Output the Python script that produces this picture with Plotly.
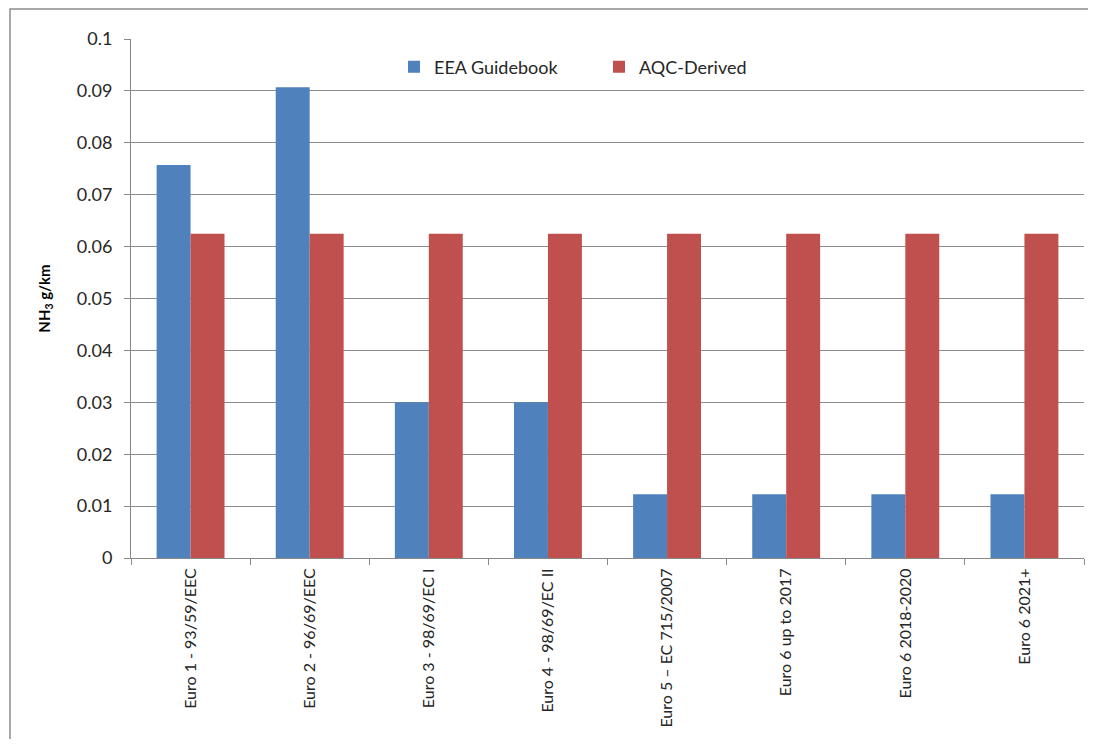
import plotly.graph_objects as go

categories = [
    "Euro 1 - 93/59/EEC",
    "Euro 2 - 96/69/EEC",
    "Euro 3 - 98/69/EC I",
    "Euro 4 - 98/69/EC II",
    "Euro 5 \u2013 EC 715/2007",
    "Euro 6 up to 2017",
    "Euro 6 2018-2020",
    "Euro 6 2021+",
]
eea_guidebook = [0.0757, 0.0907, 0.030, 0.030, 0.0123, 0.0123, 0.0123, 0.0123]
aqc_derived = [0.0625, 0.0625, 0.0625, 0.0625, 0.0625, 0.0625, 0.0625, 0.0625]

FONT = "Lato, Liberation Sans, sans-serif"
OFF = 8  # page body margin offset
W, H = 1096 - 2 * OFF, 747 - 2 * OFF
# desired page coordinates of the plot area
PL, PR, PT, PB = 131, 1084, 39, 558
L = PL - OFF
T = PT - OFF
R = W - (PR - OFF)
B = H - (PB - OFF)
pw, ph = W - L - R, H - T - B


def px(xpage):
    return (xpage - PL) / pw


def py(ypage):
    return (PB - ypage) / ph


fig = go.Figure()
fig.add_trace(go.Bar(name="EEA Guidebook", x=categories, y=eea_guidebook,
                     marker=dict(color="#4F81BD", line=dict(width=0))))
fig.add_trace(go.Bar(name="AQC-Derived", x=categories, y=aqc_derived,
                     marker=dict(color="#C0504D", line=dict(width=0))))

fig.update_layout(
    width=W, height=H,
    margin=dict(l=L, r=R, t=T, b=B, autoexpand=False),
    paper_bgcolor="white", plot_bgcolor="white",
    barmode="group", bargap=0.43, bargroupgap=0,
    font=dict(family=FONT, color="#404040"),
    legend=dict(orientation="h", x=px(394), y=py(67),
                xanchor="left", yanchor="middle",
                font=dict(size=18, color="#262626", family=FONT),
                entrywidth=160, entrywidthmode="pixels",
                bgcolor="rgba(0,0,0,0)"),
    xaxis=dict(type="category", tickangle=-90, tickson="boundaries",
               ticks="outside", ticklen=6, tickcolor="#888888",
               showline=True, linecolor="#888888", linewidth=1,
               showgrid=False, ticklabelstandoff=3,
               tickfont=dict(size=16, color="#262626", family=FONT)),
    yaxis=dict(range=[0, 0.1], dtick=0.01, tick0=0,
               ticks="outside", ticklen=6, tickcolor="#888888",
               showline=True, linecolor="#888888", linewidth=1,
               showgrid=True, gridcolor="#8c8c8c", gridwidth=1,
               zeroline=False, ticklabelstandoff=8,
               tickfont=dict(size=18, color="#262626", family=FONT),
               title=dict(text="<b>NH<sub>3</sub> g/km</b>",
                          font=dict(size=15, color="#000000", family=FONT),
                          standoff=22)),
    showlegend=True,
)

# outer chart frame: open path along left and top edges only
frame_path = "M {:.5f},{:.5f} L {:.5f},{:.5f} L {:.5f},{:.5f}".format(
    px(10), py(800), px(10), py(9), px(1200), py(9))
fig.add_shape(type="path", xref="paper", yref="paper", path=frame_path,
              fillcolor="rgba(0,0,0,0)",
              line=dict(color="#8c8c8c", width=1.5), layer="below")

fig.write_html("out.html")
